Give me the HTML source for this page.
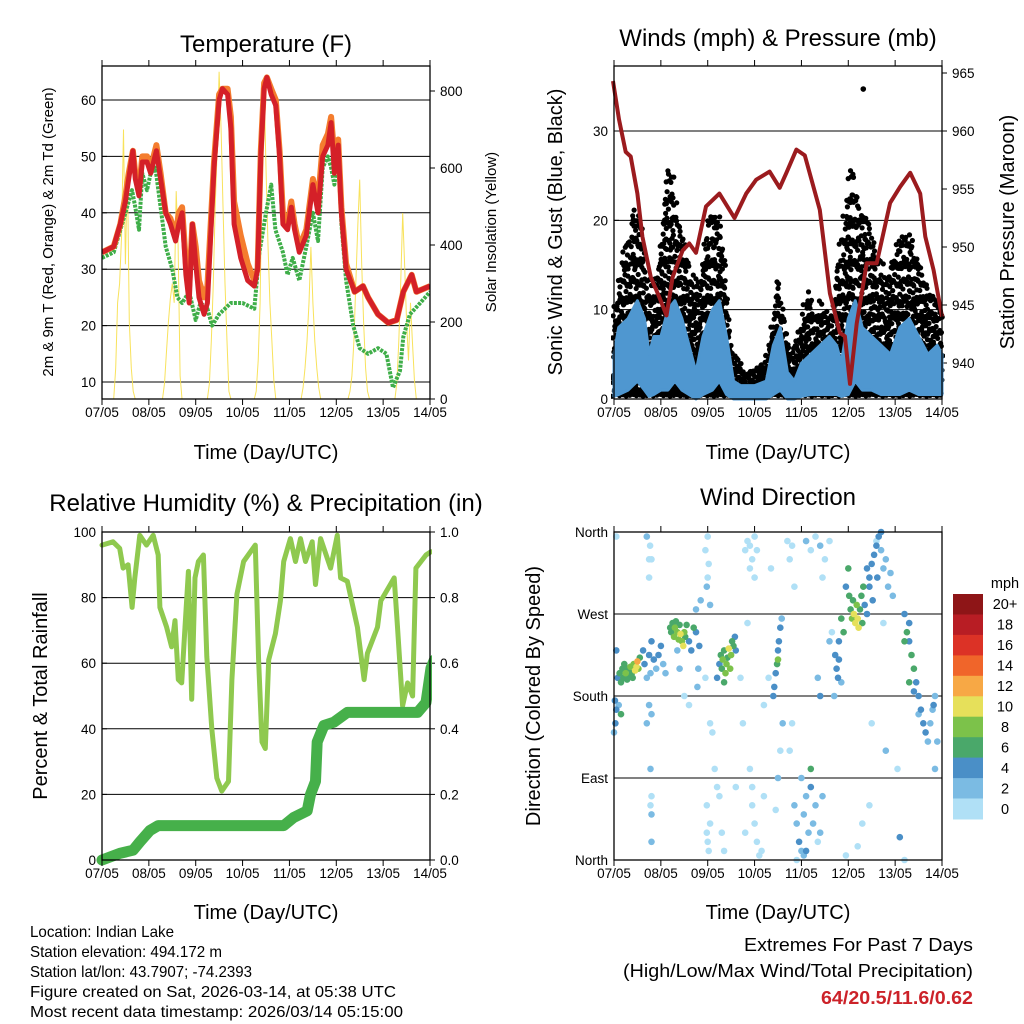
<!DOCTYPE html>
<html><head><meta charset="utf-8"><style>
html,body{margin:0;padding:0;background:#fff;}
svg{display:block;font-family:"Liberation Sans",sans-serif;}
</style></head><body>
<svg id="fig" width="1024" height="1024" viewBox="0 0 1024 1024" xmlns="http://www.w3.org/2000/svg">
<rect width="1024" height="1024" fill="#fff"/>
<g id="layer"></g>
<text x="266" y="52" font-size="24" text-anchor="middle">Temperature (F)</text>
<text x="778" y="46" font-size="24" text-anchor="middle">Winds (mph) &amp; Pressure (mb)</text>
<text x="266" y="511" font-size="24" text-anchor="middle">Relative Humidity (%) &amp; Precipitation (in)</text>
<text x="778" y="505" font-size="24" text-anchor="middle">Wind Direction</text>
<text x="266" y="459" font-size="20" text-anchor="middle">Time (Day/UTC)</text>
<text x="778" y="459" font-size="20" text-anchor="middle">Time (Day/UTC)</text>
<text x="266" y="919" font-size="20" text-anchor="middle">Time (Day/UTC)</text>
<text x="778" y="919" font-size="20" text-anchor="middle">Time (Day/UTC)</text>
<text transform="translate(53,232) rotate(-90)" font-size="15" text-anchor="middle">2m &amp; 9m T (Red, Orange) &amp; 2m Td (Green)</text>
<text transform="translate(496,232) rotate(-90)" font-size="15" text-anchor="middle">Solar Insolation (Yellow)</text>
<text transform="translate(562,232) rotate(-90)" font-size="20" text-anchor="middle">Sonic Wind &amp; Gust (Blue, Black)</text>
<text transform="translate(1014,232) rotate(-90)" font-size="20" text-anchor="middle">Station Pressure (Maroon)</text>
<text transform="translate(47,696) rotate(-90)" font-size="20" text-anchor="middle">Percent &amp; Total Rainfall</text>
<text transform="translate(540,696) rotate(-90)" font-size="20" text-anchor="middle">Direction (Colored By Speed)</text>
<g font-size="16">
<text x="30" y="937" textLength="144" lengthAdjust="spacingAndGlyphs">Location: Indian Lake</text>
<text x="30" y="957" textLength="192" lengthAdjust="spacingAndGlyphs">Station elevation: 494.172 m</text>
<text x="30" y="977" textLength="222" lengthAdjust="spacingAndGlyphs">Station lat/lon: 43.7907; -74.2393</text>
<text x="30" y="997" textLength="366" lengthAdjust="spacingAndGlyphs">Figure created on Sat, 2026-03-14, at 05:38 UTC</text>
<text x="30" y="1017" textLength="373" lengthAdjust="spacingAndGlyphs">Most recent data timestamp: 2026/03/14 05:15:00</text>
</g>
<g>
<text x="744" y="951" font-size="18" textLength="229" lengthAdjust="spacingAndGlyphs">Extremes For Past 7 Days</text>
<text x="623" y="977" font-size="18" textLength="350" lengthAdjust="spacingAndGlyphs">(High/Low/Max Wind/Total Precipitation)</text>
<text x="821" y="1004" font-size="18" font-weight="bold" fill="#cc2229" textLength="152" lengthAdjust="spacingAndGlyphs">64/20.5/11.6/0.62</text>
</g>
</svg>
<script>
const dayLabels=["07/05","08/05","09/05","10/05","11/05","12/05","13/05","14/05"];
const tDays=[0,0.25,0.39,0.5,0.57,0.66,0.71,0.79,0.86,0.96,1.04,1.16,1.25,1.36,1.46,1.57,1.64,1.71,1.79,1.86,1.93,2.0,2.07,2.18,2.25,2.32,2.39,2.5,2.57,2.68,2.75,2.82,2.96,3.11,3.25,3.32,3.39,3.46,3.52,3.61,3.71,3.79,3.86,3.96,4.04,4.11,4.21,4.36,4.5,4.61,4.71,4.82,4.89,4.96,5.04,5.11,5.21,5.39,5.57,5.68,5.89,6.11,6.29,6.43,6.61,6.71,7.0];
const temp2m=[33,34,38,42,46,51,46,43,49,49,47,51,46,40,38,35,38,40,29,24,38,31,25,22,24,36,48,60,62,61,55,38,32,28,27,30,50,62,64,61,59,50,38,37,41,37,33,36,45,40,50,52,56,47,52,40,30,26,27,25,22,20.5,21,26,29,26,27];
const temp9m=[33,34,38,43,47,51,47,44,50,50,48,52,47,40,39,36,40,41,31,27,38,34,28,25,27,38,49,61,62,62,57,42,36,31,28,30,51,63,64,62,60,51,40,38,42,38,34,37,46,42,52,54,57,50,53,41,31,26,27,25,22,20.5,21,26,29,26,27];
const tdDays=[0,0.25,0.5,0.64,0.71,0.79,0.86,0.96,1.04,1.14,1.25,1.36,1.5,1.61,1.71,1.86,2.0,2.1,2.25,2.35,2.5,2.75,3.0,3.25,3.36,3.5,3.61,3.7,3.86,3.96,4.07,4.21,4.36,4.5,4.61,4.71,4.82,4.89,4.96,5.04,5.11,5.21,5.36,5.5,5.68,5.89,6.07,6.21,6.36,6.43,6.57,6.79,7.0];
const dewpoint=[32,33,40,44,41,37,47,44,47,48,41,34,30,25,24,26,21,24,23,20,22,24,24,23,33,40,45,37,33,29,32,28,34,40,35,48,50,48,45,50,38,28,20,16,15,16,15,9,12,18,22,24,26];
const solarHours=[6,7,8,9,10,11,12,13,14,15,16,17,18];
const solarDay0=[0,80,250,300,420,700,350,600,200,80,20,0,0];
const solarDay1=[0,0,40,120,200,260,300,250,540,400,60,0,0];
const solarDay2=[0,40,150,300,500,650,850,700,500,300,150,20,0];
const solarDay3=[0,20,100,250,600,830,600,400,250,150,50,0,0];
const solarDay4=[0,30,80,150,250,395,250,150,80,30,0,0,0];
const solarDay5=[0,20,60,150,300,450,570,350,200,80,20,0,0];
const solarDay6=[0,40,150,300,483,350,200,100,250,150,50,0,0];

const presZx=[12,30,50,65,85,100,125,150,172,190,220,240,260,290,330,375,410,440,480,510,530,560,585,630,660,690,705,720,740,770,800,840,870,900,930,945,970,995];
const pressure=[964.3,961,958.2,957.8,954.6,950.9,947.4,945.7,944.1,947.4,949.7,950.3,949.5,953.5,954.6,952.5,954.6,955.8,956.5,955.1,956.4,958.4,957.9,953.2,946,942.6,942.3,938.2,943.4,948.6,948.6,953.8,955.2,956.4,954.6,950.9,948,944];
const windDays=[0,0.1,0.3,0.5,0.65,0.75,0.85,1.0,1.15,1.3,1.45,1.6,1.75,1.9,2.1,2.25,2.4,2.55,2.7,3.0,3.25,3.4,3.55,3.7,3.85,4.0,4.2,4.4,4.6,4.75,4.85,5.0,5.15,5.3,5.5,5.7,5.9,6.1,6.3,6.5,6.7,6.9,7.0];
const windHi=[5,8,9,11,9,5,7,7,10,11,9,6,3,7,10,11,7,2,1.5,1.5,2,6,8,3,2,4,5,6,7,6,4,9,11,8,7,6,5,8,9,7,5,6,5];
const windLo=[0.3,0.5,1,2,1,0.3,0.5,1,1,2,1,0.5,0,0.5,1,2,0.5,0,0,0,0,0.5,1,0,0,0.3,0.5,0.5,0.5,0.5,0.3,0.5,2,1,1,0.5,0.5,0.5,1,0.5,0.5,0.5,0.5];
const gustDays=[0,0.2,0.35,0.5,0.6,0.75,0.9,1.05,1.15,1.25,1.35,1.5,1.7,1.85,2.05,2.2,2.35,2.5,2.8,3.2,3.4,3.5,3.6,3.75,4.0,4.15,4.3,4.4,4.6,4.75,5.05,5.2,5.4,5.6,5.8,6.1,6.3,6.5,6.7,6.9,7.0];
const gustHi=[10,16,20,22,19,12,14,20,27,25,20,18,13,14,21,22,16,6,3,4,9,14,10,5,8,13,9,11,9,14,26,23,20,17,14,18,19,16,12,11,10];
const gustOutlierDay=[5.32];
const gustOutlier=[34.7];

const rhZx=[7,40,60,70,85,97,105,120,140,160,175,180,200,215,225,235,245,255,265,275,285,295,310,320,335,350,365,385,395,410,430,465,475,485,495,505,525,540,550,570,585,600,615,635,645,660,690,710,720,740,770,790,800,830,840,880,890,905,920,935,945,960,975,990];
const rh=[96,97,95,89,90,77,86,99,96,99,93,77,71,65,73,55,54,71,88,49,86,91,93,62,40,25,21,24,55,81,91,96,61,36,34,61,69,79,91,98,91,98,91,97,84,98,89,99,86,85,71,55,63,71,79,86,71,47,54,50,89,91,93,94];
const rainZx=[7,60,100,120,150,175,400,550,580,620,630,645,650,670,700,740,950,975,990,1000];
const rain=[0,0.02,0.03,0.055,0.09,0.105,0.105,0.105,0.13,0.15,0.2,0.24,0.36,0.41,0.42,0.45,0.45,0.48,0.585,0.61];

const wdDay=[0.05,0.08,0.12,0.15,0.18,0.2,0.22,0.25,0.28,0.3,0.32,0.35,0.38,0.4,0.42,0.45,0.48,0.5,0.52,0.55,0.02,0.05,0.1,0.15,0.03,0.0,
0.62,0.65,0.7,0.75,0.78,0.8,0.85,0.9,0.95,1.0,1.05,1.1,0.75,0.8,0.78,0.78,0.8,0.77,0.75,0.8,
1.2,1.22,1.25,1.28,1.3,1.32,1.35,1.38,1.4,1.42,1.45,1.48,1.5,1.52,1.55,1.6,1.65,1.7,1.75,1.8,1.78,1.82,1.75,1.85,
1.95,1.98,2.0,2.02,1.98,2.0,2.02,2.05,1.95,1.98,2.05,2.0,
2.25,2.28,2.3,2.32,2.35,2.38,2.4,2.42,2.45,2.48,2.5,2.52,2.55,2.58,2.6,2.35,2.2,
2.8,2.85,2.9,2.95,3.0,3.05,2.9,3.0,2.85,2.7,2.75,2.9,2.95,3.0,3.05,3.1,2.8,2.95,3.15,3.2,
3.42,3.45,3.48,3.5,3.52,3.55,3.58,3.4,3.5,
3.7,3.75,3.8,3.85,3.8,3.75,3.85,3.9,3.95,4.0,4.05,4.1,4.15,4.2,4.25,4.3,4.35,4.1,4.2,4.0,4.4,4.45,3.9,4.05,
4.1,4.2,4.3,4.4,4.5,4.45,4.6,4.35,4.4,
4.72,4.75,4.78,4.8,4.85,4.7,4.8,
4.95,5.0,5.02,5.05,5.08,5.1,5.12,5.15,5.18,5.2,5.22,5.25,5.28,5.3,5.32,5.35,5.4,5.45,4.9,4.85,
5.4,5.45,5.5,5.55,5.6,5.65,5.7,5.75,5.8,5.85,5.9,5.95,5.62,5.52,5.7,
6.2,6.25,6.3,6.35,6.4,6.45,6.5,6.55,6.6,6.65,6.7,6.75,6.8,6.85,6.2,6.3,6.4,6.5,6.3,6.9,6.85,6.82,
4.95,5.2,5.3,5.5,5.6,5.45,5.75,6.1,6.2,
0.05,0.7,0.75,0.7,0.8,0.8,1.35,1.4,1.5,1.6,2.05,2.1,2.15,2.2,2.25,2.3,2.35,3.35,3.3,3.2,2.6,4.6,4.65,5.8,6.05,3.6,3.55,3.5,3.45];
const wdDir=[230,200,205,195,210,200,215,205,198,210,202,212,205,200,215,208,212,218,210,222,175,165,170,160,150,140,
230,215,200,225,205,240,220,210,225,235,215,205,170,160,100,60,330,345,310,20,
255,250,260,245,255,262,250,242,258,248,240,235,250,245,258,240,230,255,250,210,190,235,275,285,
340,300,310,325,30,20,10,40,200,60,280,355,
215,225,210,220,230,205,215,222,232,210,225,240,235,245,230,195,200,
340,350,345,330,355,340,320,310,260,200,150,100,60,40,20,5,30,80,10,70,
190,205,215,230,240,255,265,180,220,
350,330,345,300,150,120,60,40,20,10,50,70,30,80,40,60,20,10,100,90,30,70,0,5,
350,340,355,345,330,310,350,200,180,
225,210,200,220,195,180,240,
300,320,290,275,265,285,270,260,280,265,255,275,290,260,300,280,270,310,250,265,
320,300,325,335,345,355,340,320,330,300,315,290,310,285,360,
270,250,240,225,210,195,180,165,150,140,130,150,165,180,240,195,185,160,260,130,100,170,
5,15,40,150,350,60,260,25,0,
355,355,330,150,70,50,230,210,180,170,150,140,100,80,70,30,10,320,200,170,80,240,250,120,100,150,120,90,55];
const wdSpd=[4,4,6,7,6,7,6,8,7,7,6,8,7,6,8,10,11,13,9,7,4,4,3,6,4,2,
4,4,3,4,2,4,4,3,4,4,2,2,3,3,3,1,1,1,0,2,
6,7,6,8,8,7,9,8,7,10,9,10,8,7,6,4,4,6,5,3,3,4,2,2,
1,2,1,1,0,0,1,0,1,1,2,0,
4,6,7,8,7,8,8,7,10,8,8,7,6,4,5,7,4,
1,0,0,1,0,0,0,1,0,0,0,1,0,0,0,0,0,0,0,1,
4,4,6,4,4,4,3,4,8,
0,1,0,1,0,0,2,2,4,2,3,2,3,4,2,3,1,4,6,3,2,2,1,2,
2,1,1,2,1,1,0,3,4,
4,4,4,4,3,3,4,
4,6,6,7,8,6,10,10,8,11,10,6,7,6,6,4,4,4,6,6,
4,4,4,4,4,4,3,2,2,2,2,3,4,4,4,
4,6,5,6,6,4,4,4,5,4,3,2,2,2,7,6,4,3,4,2,2,4,
1,1,1,1,1,1,1,4,1,
0,2,0,2,1,2,3,3,1,1,1,1,1,1,0,0,0,0,0,1,0,2,1,2,1,2,1,2,0];
const cbLabels=["20+","18","16","14","12","10","8","6","4","2","0"];
const cbColors=["#8e1517","#b81d24","#dc3226","#f0652a","#f7a845","#e6e05a","#7cc24a","#4aa86a","#4a8fc7","#7bbbe3","#b0e0f6"];

const NS="http://www.w3.org/2000/svg";
const layer=document.getElementById('layer');
function mk(tag,attrs,parent){const e=document.createElementNS(NS,tag);for(const k in attrs)e.setAttribute(k,attrs[k]);(parent||layer).appendChild(e);return e;}
function lin(d0,d1,r0,r1){return v=>r0+(v-d0)*(r1-r0)/(d1-d0);}
function pathOf(xs,ys,fx,fy){return xs.map((v,i)=>(i?'L':'M')+fx(v).toFixed(1)+','+fy(ys[i]).toFixed(1)).join('');}
function interp(xs,ys,x){if(x<=xs[0])return ys[0];for(let i=1;i<xs.length;i++){if(x<=xs[i]){const t=(x-xs[i-1])/(xs[i]-xs[i-1]);return ys[i-1]+t*(ys[i]-ys[i-1]);}}return ys[ys.length-1];}
const zxDay=(z,off)=>(z-off)/140;

function frame(x0,y0,x1,y1,name){
  const g=mk('g',{});
  
  
  mk('rect',{x:x0,y:y0,width:x1-x0,height:y1-y0,fill:'none',stroke:'#000','stroke-width':1.3},g);
  const fx=lin(0,7,x0,x1);
  for(let d=0;d<=7;d++){
    const x=fx(d);
    mk('line',{x1:x,x2:x,y1:y1,y2:y1+6,stroke:'#000','stroke-width':1},g);
    mk('line',{x1:x,x2:x,y1:y0,y2:y0-6,stroke:'#000','stroke-width':1},g);
    const t=mk('text',{x:x,y:y1+18,'font-size':13.5,'text-anchor':'middle'},g);
    
    
    t.textContent=dayLabels[d];
  }
  return fx;
}
function yAxis(vals,labels,fy,x0,x1,side,grid,name){
  const g=mk('g',{});
  
  
  vals.forEach((v,i)=>{
    const y=fy(v);
    if(grid) mk('line',{x1:x0,x2:x1,y1:y,y2:y,stroke:'#000','stroke-width':1},g);
    const xa=side==='left'?x0:x1;
    mk('line',{x1:xa,x2:xa+5,y1:y,y2:y,stroke:'#000','stroke-width':1},g);
    const t=mk('text',{x:side==='left'?x0-6:x1+10,y:y+5,'font-size':13.5,'text-anchor':side==='left'?'end':'start'},g);
    
    
    t.textContent=labels[i];
  });
}

(function(){
  const x0=102,x1=430,y0=66,y1=399;
  const fx=lin(0,7,x0,x1);
  const fy=lin(10,60,382,100);
  const fs=lin(0,800,399,91);
  yAxis([10,20,30,40,50,60],["10","20","30","40","50","60"],fy,x0,x1,'left',true,'temp-y-axis');
  yAxis([0,200,400,600,800],["0","200","400","600","800"],fs,x0,x1,'right',false,'solar-y-axis');
  const clip=mk('clipPath',{id:'c1'});mk('rect',{x:x0,y:y0,width:x1-x0,height:y1-y0},clip);
  const g=mk('g',{'clip-path':'url(#c1)'});
  const solar=[solarDay0,solarDay1,solarDay2,solarDay3,solarDay4,solarDay5,solarDay6];
  solar.forEach((arr,d)=>{
    const p=mk('path',{d:pathOf(solarHours.map(h=>d+h/24),arr,fx,fs),fill:'none',stroke:'#f7df4a','stroke-width':1,'stroke-opacity':0.9},g);
    
    
  });
  let p=mk('path',{d:pathOf(tdDays,dewpoint,fx,fy),fill:'none',stroke:'#3fae49','stroke-width':4,'stroke-dasharray':'3 1.2','stroke-linejoin':'round'},g);
  
  
  p=mk('path',{d:pathOf(tDays,temp9m,fx,fy),fill:'none',stroke:'#f47d2e','stroke-width':6,'stroke-linejoin':'round'},g);
  
  
  p=mk('path',{d:pathOf(tDays,temp2m,fx,fy),fill:'none',stroke:'#d42028','stroke-width':5,'stroke-linejoin':'round'},g);
  
  
  frame(x0,y0,x1,y1,'temperature-frame');
})();

(function(){
  const x0=614,x1=942,y0=66,y1=399;
  const fx=lin(0,7,x0,x1);
  const fy=lin(0,30,399,131);
  const fp=lin(940,965,363,73);
  yAxis([0,10,20,30],["0","10","20","30"],fy,x0,x1,'left',true,'wind-y-axis');
  yAxis([940,945,950,955,960,965],["940","945","950","955","960","965"],fp,x0,x1,'right',false,'pressure-y-axis');
  const clip=mk('clipPath',{id:'c2'});mk('rect',{x:x0-3,y:y0,width:x1-x0+6,height:y1-y0+3},clip);
  const g=mk('g',{'clip-path':'url(#c2)'});
  let k=0;
  for(let d=0;d<=7;d+=0.017){
    const hi=interp(gustDays,gustHi,d);
    const ph=(k*0.618)%1;
    let step=0.95, v=0.3+ph*step;
    let j=0;
    while(v<=hi){
      const xo=(((k*0.382+j*0.618)%1)-0.5)*4;
      const c=mk('circle',{cx:(fx(d)+xo).toFixed(1),cy:fy(v).toFixed(1),r:2.6,fill:'#000'},g);
      
      
      step+=0.13;
      v+=step*(0.7+((j*0.618+k*0.29)%1)*0.6);
      j++;
    }
    k++;
  }
  gustOutlierDay.forEach((d,i)=>{
    const c=mk('circle',{cx:fx(d),cy:fy(gustOutlier[i]),r:2.8,fill:'#000'},g);
    
    
  });
  let dp=windDays.map((d,i)=>(i?'L':'M')+fx(d).toFixed(1)+','+fy(windHi[i]).toFixed(1)).join('');
  for(let i=windDays.length-1;i>=0;i--) dp+='L'+fx(windDays[i]).toFixed(1)+','+fy(windLo[i]).toFixed(1);
  let p=mk('path',{d:dp+'Z',fill:'#4f97d0',stroke:'#4f97d0','stroke-width':3,'stroke-linejoin':'round'},g);
  
  
  p=mk('path',{d:pathOf(presZx.map(z=>zxDay(z,15)),pressure,fx,fp),fill:'none',stroke:'#9b1b1e','stroke-width':4,'stroke-linejoin':'round'},g);
  
  
  frame(x0,y0,x1,y1,'winds-frame');
})();

(function(){
  const x0=102,x1=430,y0=532,y1=860;
  const fx=lin(0,7,x0,x1);
  const fy=lin(0,100,860,532);
  const fr=lin(0,1,860,532);
  yAxis([0,20,40,60,80,100],["0","20","40","60","80","100"],fy,x0,x1,'left',true,'rh-y-axis');
  yAxis([0,0.2,0.4,0.6,0.8,1.0],["0.0","0.2","0.4","0.6","0.8","1.0"],fr,x0,x1,'right',false,'rain-y-axis');
  const clip=mk('clipPath',{id:'c3'});mk('rect',{x:x0-6,y:y0,width:x1-x0+8,height:y1-y0+6},clip);
  const g=mk('g',{'clip-path':'url(#c3)'});
  let p=mk('path',{d:pathOf(rhZx.map(z=>zxDay(z,7)),rh,fx,fy),fill:'none',stroke:'#8fc94f','stroke-width':5,'stroke-linejoin':'round','stroke-linecap':'round'},g);
  
  
  p=mk('path',{d:pathOf(rainZx.map(z=>zxDay(z,7)),rain,fx,fr),fill:'none',stroke:'#46b04a','stroke-width':11,'stroke-linejoin':'round','stroke-linecap':'round'},g);
  
  
  frame(x0,y0,x1,y1,'rh-frame');
})();

(function(){
  const x0=614,x1=942,y0=532,y1=860;
  const fx=lin(0,7,x0,x1);
  const fy=lin(0,360,860,532);
  yAxis([0,90,180,270,360],["North","East","South","West","North"],fy,x0,x1,'left',true,'direction-y-axis');
  const clip=mk('clipPath',{id:'c4'});mk('rect',{x:x0-4,y:y0-4,width:x1-x0+8,height:y1-y0+8},clip);
  const g=mk('g',{'clip-path':'url(#c4)'});
  const col=s=>cbColors[10-Math.min(10,Math.floor(s/2))];
  const order=wdSpd.map((s,i)=>i).sort((a,b)=>wdSpd[a]-wdSpd[b]);
  order.forEach(i=>{
    const c=mk('circle',{cx:fx(wdDay[i]).toFixed(1),cy:fy(wdDir[i]).toFixed(1),r:3.3,fill:col(wdSpd[i])},g);
    
    
  });
  frame(x0,y0,x1,y1,'wind-direction-frame');
  const cb=mk('g',{});
  
  
  const t=mk('text',{x:1005,y:588,'font-size':14.5,'text-anchor':'middle'},cb);
  
  
  t.textContent='mph';
  const h=225/11;
  cbLabels.forEach((lab,i)=>{
    const r=mk('rect',{x:953,y:(594+i*h).toFixed(1),width:30,height:(h+0.5).toFixed(1),fill:cbColors[i]},cb);
    
    
    const tt=mk('text',{x:1005,y:(594+i*h+h/2+5).toFixed(1),'font-size':14.5,'text-anchor':'middle'},cb);
    
    
    tt.textContent=lab;
  });
})();
</script>
</body></html>
